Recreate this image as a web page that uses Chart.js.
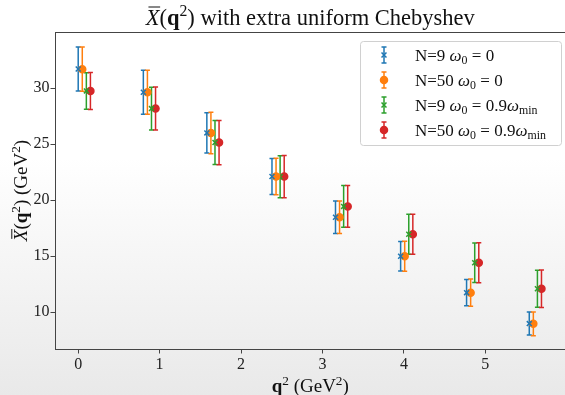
<!DOCTYPE html>
<html>
<head>
<meta charset="utf-8">
<script src="https://cdn.jsdelivr.net/npm/chart.js@4.4.1/dist/chart.umd.min.js"></script>
<style>
  html, body { margin: 0; padding: 0; overflow: hidden; width: 565px; height: 395px;
    background: linear-gradient(to bottom, #ffffff 0%, #ffffff 40%, #e9e9e9 100%); }
  #wrap { width: 571px; height: 395px; }
</style>
</head>
<body>
<div id="wrap"><canvas id="chart" width="571" height="395"></canvas></div>
<script>
// momentum values and the small horizontal shift of each series
const q2 = [0, 0.80, 1.58, 2.38, 3.16, 3.96, 4.77, 5.54];
const shifts = [0, 0.05, 0.10, 0.15];

// N=9, w0 = 0
const xbarN9 = [31.70, 29.62, 25.99, 22.10, 18.46, 14.98, 11.73, 8.97];
const errN9 = [1.96, 1.96, 1.80, 1.61, 1.45, 1.31, 1.18, 1.03];
// N=50, w0 = 0
const xbarN50 = [31.68, 29.62, 25.99, 22.10, 18.46, 14.98, 11.73, 8.95];
const errN50 = [1.98, 1.96, 1.85, 1.64, 1.45, 1.34, 1.21, 1.06];
// N=9, w0 = 0.9 wmin
const xbarN9w = [29.74, 28.16, 25.13, 22.08, 19.43, 16.94, 14.40, 12.08];
const errN9w = [1.63, 1.90, 1.96, 1.87, 1.86, 1.78, 1.77, 1.66];
// N=50, w0 = 0.9 wmin
const xbarN50w = [29.74, 28.16, 25.13, 22.09, 19.43, 16.94, 14.40, 12.08];
const errN50w = [1.65, 1.92, 1.98, 1.88, 1.87, 1.79, 1.78, 1.67];

const xTicks = [0, 1, 2, 3, 4, 5];
const yTicks = [10, 15, 20, 25, 30];

// texts (parts: it = italic, bf = bold, sup/sub, bar = overline)
const titleText = [{t: 'X', it: 1, bar: 1}, {t: '('}, {t: 'q', bf: 1}, {t: '2', sup: 1}, {t: ')'}, {t: ' with extra uniform Chebyshev'}];
const xTitle = [{t: 'q', bf: 1}, {t: '2', sup: 1}, {t: ' (GeV'}, {t: '2', sup: 1}, {t: ')'}];
const yTitle = [{t: 'X', it: 1, bar: 1}, {t: '('}, {t: 'q', bf: 1}, {t: '2', sup: 1}, {t: ') (GeV'}, {t: '2', sup: 1}, {t: ')'}];
const seriesNames = [
  [{t: 'N=9 '}, {t: 'ω', it: 1}, {t: '0', sub: 1}, {t: ' = 0'}],
  [{t: 'N=50 '}, {t: 'ω', it: 1}, {t: '0', sub: 1}, {t: ' = 0'}],
  [{t: 'N=9 '}, {t: 'ω', it: 1}, {t: '0', sub: 1}, {t: ' = 0.9'}, {t: 'ω', it: 1}, {t: 'min', sub: 1}],
  [{t: 'N=50 '}, {t: 'ω', it: 1}, {t: '0', sub: 1}, {t: ' = 0.9'}, {t: 'ω', it: 1}, {t: 'min', sub: 1}]
];

const colors = ['#1f77b4', '#ff7f0e', '#2ca02c', '#d62728'];
const markers = ['crossRot', 'circle', 'crossRot', 'circle'];
const values = [xbarN9, xbarN50, xbarN9w, xbarN50w];
const errors = [errN9, errN50, errN9w, errN50w];

const FONT = '"Liberation Serif", "DejaVu Serif", serif';

function partFont(p, size) {
  const s = (p.sup || p.sub) ? size * 0.7 : size;
  return (p.it ? 'italic ' : '') + (p.bf ? 'bold ' : '') + s + 'px ' + FONT;
}
function richWidth(ctx, parts, size) {
  let w = 0;
  parts.forEach(p => { ctx.font = partFont(p, size); w += ctx.measureText(p.t).width; });
  return w;
}
function drawRich(ctx, parts, x, y, size, align) {
  const w = richWidth(ctx, parts, size);
  let cx = align === 'center' ? x - w / 2 : x;
  ctx.textBaseline = 'alphabetic';
  ctx.textAlign = 'left';
  parts.forEach(p => {
    ctx.font = partFont(p, size);
    const dy = p.sup ? -size * 0.38 : (p.sub ? size * 0.22 : 0);
    ctx.fillText(p.t, cx, y + dy);
    const pw = ctx.measureText(p.t).width;
    if (p.bar) {
      ctx.save();
      ctx.lineWidth = 1;
      ctx.strokeStyle = ctx.fillStyle;
      ctx.beginPath();
      ctx.moveTo(cx + pw * 0.2, y - size * 0.8);
      ctx.lineTo(cx + pw * 1.05, y - size * 0.8);
      ctx.stroke();
      ctx.restore();
    }
    cx += pw;
  });
}

function drawErrBar(ctx, x, yTop, yBot, color) {
  ctx.strokeStyle = color;
  ctx.lineWidth = 1.5;
  ctx.beginPath();
  ctx.moveTo(x, yTop); ctx.lineTo(x, yBot);
  ctx.moveTo(x - 2.5, yTop); ctx.lineTo(x + 2.5, yTop);
  ctx.moveTo(x - 2.5, yBot); ctx.lineTo(x + 2.5, yBot);
  ctx.stroke();
}

const errorBars = {
  id: 'errorBars',
  beforeDatasetsDraw(chart) {
    const ctx = chart.ctx;
    const xs = chart.scales.x, ys = chart.scales.y;
    ctx.save();
    chart.data.datasets.forEach(ds => {
      ds.data.forEach((d, i) => {
        const px = xs.getPixelForValue(d.x);
        drawErrBar(ctx, px, ys.getPixelForValue(d.y + ds.errors[i]), ys.getPixelForValue(d.y - ds.errors[i]), ds.borderColor);
      });
    });
    ctx.restore();
  }
};

const decorations = {
  id: 'decorations',
  afterDraw(chart) {
    const ctx = chart.ctx;
    const a = chart.chartArea;
    ctx.save();
    // top spine
    ctx.strokeStyle = '#444';
    ctx.lineWidth = 1;
    ctx.beginPath();
    ctx.moveTo(a.left, a.top + 0.5); ctx.lineTo(a.right, a.top + 0.5);
    ctx.stroke();

    ctx.fillStyle = '#111';
    const midX = (a.left + a.right) / 2;
    drawRich(ctx, titleText, midX, 25, 22.5, 'center');
    drawRich(ctx, xTitle, midX, 392, 19, 'center');
    ctx.save();
    ctx.translate(27, (a.top + a.bottom) / 2);
    ctx.rotate(-Math.PI / 2);
    ctx.fillStyle = '#111';
    drawRich(ctx, yTitle, 0, 0, 19, 'center');
    ctx.restore();

    // legend
    const lx = 360, ly = 41, lw = 201, lh = 104;
    ctx.fillStyle = 'rgba(255,255,255,0.85)';
    ctx.strokeStyle = '#d0d0d0';
    ctx.lineWidth = 1;
    ctx.beginPath();
    ctx.roundRect(lx + 0.5, ly + 0.5, lw, lh, 3);
    ctx.fill();
    ctx.stroke();
    seriesNames.forEach((parts, k) => {
      const cy = 55 + k * 25;
      drawErrBar(ctx, 384, cy - 8, cy + 8, colors[k]);
      ctx.strokeStyle = colors[k];
      ctx.fillStyle = colors[k];
      ctx.lineWidth = 1.5;
      Chart.helpers.drawPoint(ctx, {pointStyle: markers[k], radius: 3.5, borderWidth: 1.5}, 384, cy);
      ctx.fillStyle = '#111';
      drawRich(ctx, parts, 415, cy + 5.5, 17, 'left');
    });
    ctx.restore();
  }
};

const datasets = values.map((vals, k) => ({
  label: seriesNames[k].map(p => p.t).join(''),
  data: q2.map((q, i) => ({x: q + shifts[k], y: vals[i]})),
  errors: errors[k],
  borderColor: colors[k],
  backgroundColor: colors[k],
  pointStyle: markers[k],
  pointRadius: 3.5,
  pointBorderWidth: 1.5,
  showLine: false
}));

const tickFont = {family: FONT, size: 16};

new Chart(document.getElementById('chart'), {
  type: 'scatter',
  data: {datasets},
  options: {
    responsive: false,
    animation: false,
    devicePixelRatio: 1,
    layout: {padding: {top: 32, right: 1, left: 0, bottom: 0}},
    plugins: {legend: {display: false}, title: {display: false}, tooltip: {enabled: false}},
    scales: {
      x: {
        type: 'linear', min: -0.285, max: 5.985,
        afterFit: s => { s.height = 46; },
        afterBuildTicks: s => { s.ticks = xTicks.map(v => ({value: v})); },
        ticks: {font: tickFont, color: '#222', padding: 2, maxRotation: 0, includeBounds: false},
        grid: {drawOnChartArea: false, tickLength: 4.5, color: '#444'},
        border: {color: '#444', width: 1}
      },
      y: {
        type: 'linear', min: 6.7, max: 35.0,
        afterFit: s => { s.width = 55; },
        afterBuildTicks: s => { s.ticks = yTicks.map(v => ({value: v})); },
        ticks: {font: tickFont, color: '#222', padding: 1, includeBounds: false},
        grid: {drawOnChartArea: false, tickLength: 4.5, color: '#444'},
        border: {color: '#444', width: 1}
      }
    }
  },
  plugins: [errorBars, decorations]
});
</script>
</body>
</html>
